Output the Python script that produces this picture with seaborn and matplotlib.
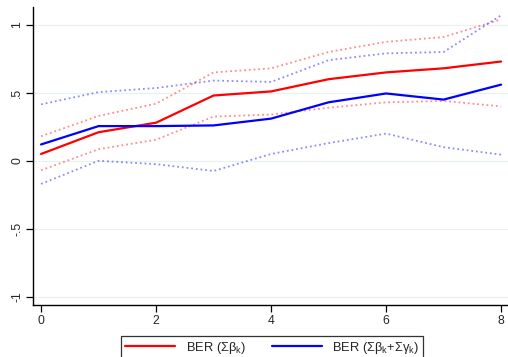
import matplotlib
matplotlib.use("Agg")
import matplotlib.pyplot as plt
import seaborn as sns

horizon = [0, 1, 2, 3, 4, 5, 6, 7, 8]

ber_beta = [0.05, 0.21, 0.28, 0.48, 0.51, 0.60, 0.65, 0.68, 0.73]
ber_beta_hi = [0.18, 0.33, 0.42, 0.65, 0.68, 0.80, 0.875, 0.91, 1.04]
ber_beta_lo = [-0.07, 0.085, 0.155, 0.325, 0.34, 0.39, 0.43, 0.44, 0.40]

ber_gamma = [0.12, 0.255, 0.255, 0.26, 0.31, 0.43, 0.495, 0.45, 0.56]
ber_gamma_hi = [0.415, 0.505, 0.535, 0.59, 0.58, 0.74, 0.79, 0.80, 1.07]
ber_gamma_lo = [-0.17, 0.0, -0.025, -0.075, 0.05, 0.13, 0.20, 0.10, 0.045]

y_ticks = [-1, -0.5, 0, 0.5, 1]
y_labels = ["-1", "-.5", "0", ".5", "1"]
x_ticks = [0, 2, 4, 6, 8]

label_beta = "BER (Σβ$_\\mathregular{k}$)"
label_gamma = "BER (Σβ$_\\mathregular{k}$+Σγ$_\\mathregular{k}$)"

sns.set_style("white")
plt.rcParams["font.family"] = ["Liberation Sans", "DejaVu Sans"]
plt.rcParams["mathtext.fontset"] = "custom"
plt.rcParams["mathtext.rm"] = "Liberation Sans"
plt.rcParams["mathtext.it"] = "Liberation Sans"

fig = plt.figure(figsize=(5.08, 3.57), dpi=100)
ax = fig.add_axes([0.065, 0.146, 0.935, 0.834])

for y in y_ticks:
    ax.axhline(y, color="#e8f0f1", lw=0.9, zorder=0)

red = "#ff0000"
blue = "#0000ff"

for vals, col in [(ber_beta_hi, red), (ber_beta_lo, red),
                  (ber_gamma_hi, blue), (ber_gamma_lo, blue)]:
    sns.lineplot(x=horizon, y=vals, ax=ax, color=col, lw=1.3,
                 linestyle=(0, (1, 1.6)), alpha=0.45, legend=False)

sns.lineplot(x=horizon, y=ber_beta, ax=ax, color=red, lw=1.6, label=label_beta)
sns.lineplot(x=horizon, y=ber_gamma, ax=ax, color=blue, lw=1.6, label=label_gamma)

ax.set_xlim(-0.14, 8.12)
ax.set_ylim(-1.06, 1.13)
ax.set_xticks(x_ticks)
ax.set_xticklabels([str(t) for t in x_ticks])
ax.set_yticks(y_ticks)
ax.set_yticklabels(y_labels, rotation=90, va="center")
ax.tick_params(axis="both", direction="out", length=5, width=0.9,
               labelsize=8.7, color="black", bottom=True, left=True)
ax.tick_params(axis="x", pad=2)
ax.tick_params(axis="y", pad=2)
ax.set_xlabel("")
ax.set_ylabel("")

for side in ["top", "right"]:
    ax.spines[side].set_visible(False)
for side in ["left", "bottom"]:
    ax.spines[side].set_color("black")
    ax.spines[side].set_linewidth(1.0)

ax.get_legend().remove()
handles, labels = ax.get_legend_handles_labels()
leg = fig.legend(handles, labels, loc="upper center", ncol=2,
                 bbox_to_anchor=(0.536, 1 - 336 / 357), borderaxespad=0,
                 frameon=True, fancybox=False, edgecolor="black", fontsize=9.3,
                 handlelength=3.9, columnspacing=2.0, borderpad=0.3,
                 handletextpad=0.8)
leg.get_frame().set_linewidth(0.9)

fig.savefig("out.png", dpi=100)
